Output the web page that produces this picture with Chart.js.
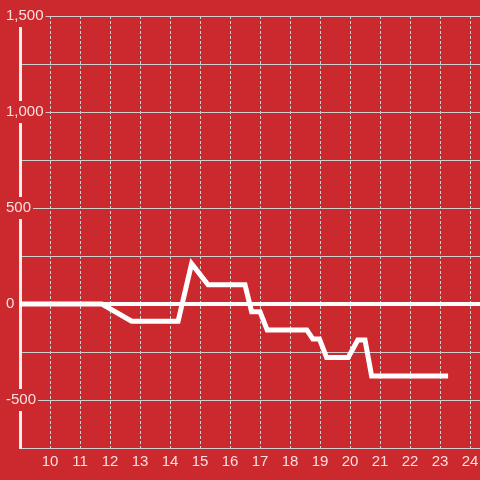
<!DOCTYPE html>
<html>
<head>
<meta charset="utf-8">
<script src="https://cdn.jsdelivr.net/npm/chart.js@4/dist/chart.umd.min.js"></script>
<style>
  html, body { margin: 0; padding: 0; background: #cc292e; }
  #wrap { width: 480px; height: 480px; }
</style>
</head>
<body>
<div id="wrap"><canvas id="chart"></canvas></div>
<script>
// Hour of day and running value
const hours = [9, 11.73, 12.72, 14.27, 14.72, 15.27, 16.5, 16.72, 17.0, 17.24, 18.56, 18.76, 18.98, 19.22, 19.94, 20.26, 20.5, 20.72, 23.27]
const values = [0, 0, -90, -90, 210, 100, 100, -40, -40, -135, -135, -182, -182, -278, -278, -188, -188, -375, -375]

const xMin = 9
const xMax = 24.333
const yMin = -750
const yMax = 1500

const bg = '#cc292e'
const gridGrey = '#cfcfcf'
const labelColor = 'rgba(255, 255, 255, 0.85)'

Chart.defaults.font.family = '"Liberation Sans", Arial, sans-serif'
Chart.defaults.font.size = 15

const points = hours.map((h, i) => ({ x: h, y: values[i] }))

new Chart(document.getElementById('chart').getContext('2d'), {
  type: 'line',
  data: {
    datasets: [
      {
        data: points,
        borderColor: '#ffffff',
        borderWidth: 5,
        pointRadius: 0,
        tension: 0,
        borderJoinStyle: 'miter'
      }
    ]
  },
  options: {
    responsive: true,
    maintainAspectRatio: false,
    animation: false,
    layout: { padding: { top: 16, left: 0, right: 0, bottom: 0 } },
    plugins: {
      legend: { display: false },
      tooltip: { enabled: false }
    },
    scales: {
      x: {
        type: 'linear',
        min: xMin,
        max: xMax,
        afterFit: (scale) => {
          scale.height = 32
          scale.paddingLeft = 0
          scale.paddingRight = 0
        },
        border: { display: false, dash: [3, 2] },
        grid: { color: gridGrey, lineWidth: 1, drawTicks: false },
        ticks: {
          stepSize: 1,
          includeBounds: false,
          color: labelColor,
          padding: 5,
          maxRotation: 0,
          callback: (value) => (value === xMin ? '' : String(value))
        }
      },
      y: {
        min: yMin,
        max: yMax,
        afterFit: (scale) => { scale.width = 20 },
        border: { display: true, color: '#eeeeee', width: 3 },
        grid: {
          drawTicks: false,
          color: (ctx) => (ctx.tick && ctx.tick.value === 0 ? '#ffffff' : gridGrey),
          lineWidth: (ctx) => (ctx.tick && ctx.tick.value === 0 ? 4 : 1)
        },
        ticks: {
          stepSize: 250,
          mirror: true,
          padding: -14,
          color: labelColor,
          showLabelBackdrop: true,
          backdropColor: bg,
          backdropPadding: 2,
          callback: (value) => (value % 500 === 0 ? value.toLocaleString('en-US') : '')
        }
      }
    }
  }
})
</script>
</body>
</html>
